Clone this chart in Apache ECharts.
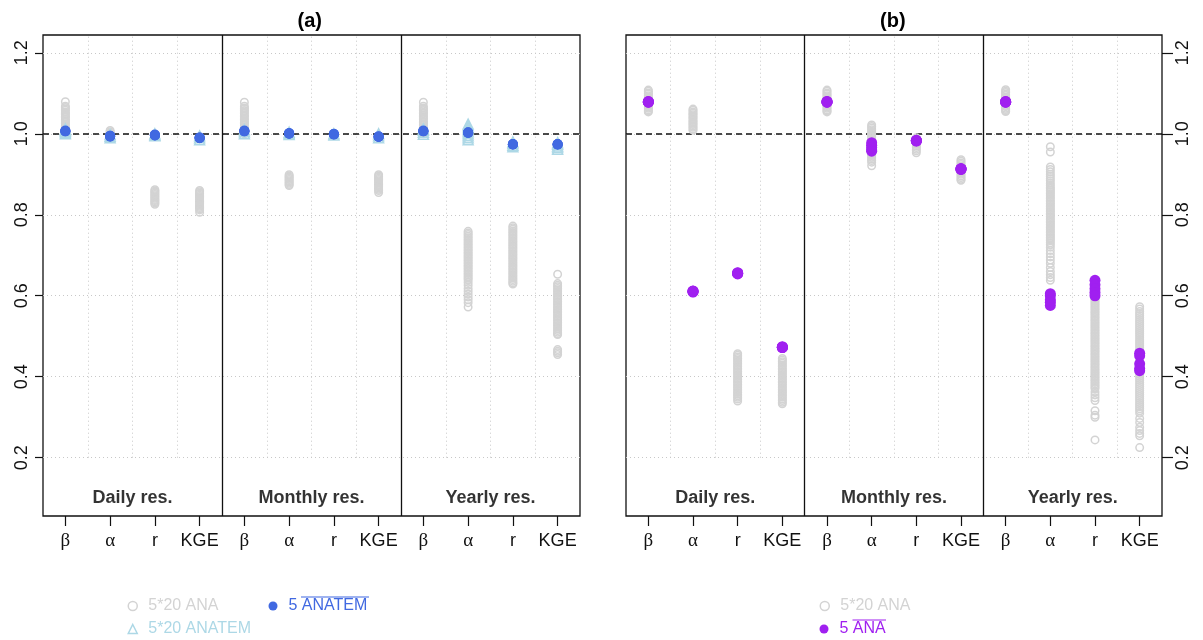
<!DOCTYPE html>
<html><head><meta charset="utf-8">
<script src="https://cdn.jsdelivr.net/npm/echarts@6/dist/echarts.min.js"></script>
<style>html,body{margin:0;padding:0;background:#fff}#c{width:1203px;height:640px}</style>
</head><body><div id="c"></div>
<script>
// ---------- labels ----------
const metrics = ['β', 'α', 'r', 'KGE'];
const resolutions = ['Daily res.', 'Monthly res.', 'Yearly res.'];
const panelTitles = ['(a)', '(b)'];
const yTicks = [0.2, 0.4, 0.6, 0.8, 1.0, 1.2];
const yMin = 0.056, yMax = 1.244;

// ---------- panel (a): 5*20 ANA (grey open circles), per metric [β, α, r, KGE] ----------
const anaA_daily = [
  [1.079,1.068,1.065,1.061,1.058,1.054,1.05,1.047,1.043,1.04,1.036,1.032,1.029,1.025,1.021,1.018,1.014,1.011,1.007,1.004,1.001],
  [1.008,1.005,1.002,0.999,0.996,0.993],
  [0.862,0.859,0.856,0.853,0.85,0.847,0.844,0.841,0.838,0.835,0.832,0.829,0.826],
  [0.86,0.857,0.854,0.851,0.848,0.845,0.842,0.839,0.836,0.833,0.83,0.827,0.824,0.821,0.818,0.815,0.812,0.806]
];
const anaA_monthly = [
  [1.078,1.068,1.064,1.061,1.057,1.054,1.05,1.046,1.043,1.039,1.035,1.032,1.028,1.025,1.021,1.017,1.014,1.01,1.007,1.003,1.0],
  [0.899,0.896,0.893,0.89,0.887,0.884,0.881,0.878,0.875,0.872],
  [1.0,0.998,0.996],
  [0.899,0.896,0.893,0.89,0.887,0.884,0.881,0.878,0.875,0.872,0.869,0.866,0.863,0.86,0.855]
];
const anaA_yearly = [
  [1.078,1.068,1.064,1.06,1.057,1.053,1.05,1.046,1.042,1.039,1.035,1.031,1.028,1.024,1.021,1.017,1.013,1.01,1.006,1.003,1.0],
  [0.759,0.755,0.751,0.747,0.743,0.739,0.735,0.731,0.727,0.723,0.719,0.715,0.711,0.707,0.703,0.699,0.695,0.691,0.687,0.683,0.679,0.675,0.671,0.667,0.663,0.659,0.655,0.651,0.647,0.643,0.639,0.633,0.626,0.618,0.611,0.604,0.597,0.59,0.583,0.572],
  [0.772,0.768,0.764,0.76,0.756,0.752,0.748,0.744,0.74,0.736,0.732,0.728,0.724,0.72,0.716,0.712,0.708,0.704,0.7,0.696,0.692,0.688,0.684,0.68,0.676,0.672,0.668,0.664,0.66,0.656,0.652,0.648,0.644,0.64,0.636,0.632,0.629],
  [0.653,0.63,0.626,0.622,0.618,0.614,0.61,0.606,0.602,0.598,0.594,0.59,0.586,0.582,0.578,0.574,0.57,0.566,0.562,0.558,0.554,0.55,0.546,0.542,0.538,0.534,0.53,0.526,0.522,0.518,0.514,0.51,0.506,0.504,0.467,0.463,0.459,0.455]
];
// panel (a): 5*20 ANATEM (light-blue open triangles)
const anatemA_daily   = [[1.0,1.003,1.006,1.009,1.012],[0.99,0.994,0.998],[0.995,0.997,1.0],[0.985,0.99,0.995]];
const anatemA_monthly = [[1.0,1.005,1.01],[0.998,1.001,1.004],[0.997,1.0],[0.99,0.995,1.0]];
const anatemA_yearly  = [[0.999,1.004,1.009,1.012],[0.985,0.99,0.995,1.0,1.005,1.01,1.015,1.02,1.024],[0.968,0.972,0.976,0.98],[0.962,0.966,0.97,0.974,0.978]];
// panel (a): 5 mean ANATEM (blue dots)
const meanA_daily   = [[1.007,1.006,1.008,1.007,1.006],[0.994,0.995,0.993,0.994,0.995],[0.997,0.996,0.998,0.997,0.996],[0.99,0.989,0.991,0.99,0.99]];
const meanA_monthly = [[1.007,1.006,1.008,1.007,1.006],[1.001,1.0,1.002,1.001,1.0],[0.999,0.998,1.0,0.999,0.999],[0.993,0.992,0.994,0.993,0.993]];
const meanA_yearly  = [[1.007,1.006,1.008,1.007,1.006],[1.003,1.002,1.004,1.003,1.002],[0.974,0.973,0.975,0.974,0.974],[0.974,0.973,0.975,0.974,0.974]];

// ---------- panel (b): 5*20 ANA (grey open circles) ----------
const anaB_daily = [
  [1.108,1.105,1.101,1.098,1.094,1.091,1.087,1.084,1.08,1.077,1.073,1.07,1.066,1.063,1.059,1.056,1.054],
  [1.061,1.058,1.054,1.051,1.047,1.044,1.04,1.037,1.033,1.03,1.026,1.023,1.019,1.016,1.012,1.009],
  [0.457,0.453,0.449,0.445,0.441,0.437,0.433,0.429,0.425,0.421,0.417,0.413,0.409,0.405,0.401,0.397,0.393,0.389,0.385,0.381,0.377,0.373,0.369,0.365,0.361,0.357,0.353,0.349,0.345,0.34],
  [0.445,0.441,0.437,0.433,0.429,0.425,0.421,0.417,0.413,0.409,0.405,0.401,0.397,0.393,0.389,0.385,0.381,0.377,0.373,0.369,0.365,0.361,0.357,0.353,0.349,0.345,0.341,0.337,0.333]
];
const anaB_monthly = [
  [1.108,1.105,1.101,1.098,1.094,1.091,1.087,1.084,1.08,1.077,1.073,1.07,1.066,1.063,1.059,1.056,1.054],
  [1.022,1.018,1.014,1.01,1.006,1.002,0.998,0.994,0.99,0.986,0.982,0.978,0.974,0.97,0.966,0.962,0.958,0.954,0.95,0.946,0.942,0.938,0.934,0.93,0.921],
  [0.99,0.986,0.982,0.978,0.974,0.97,0.966,0.962,0.958,0.953],
  [0.936,0.932,0.928,0.924,0.92,0.916,0.912,0.908,0.904,0.9,0.896,0.892,0.888,0.885]
];
const anaB_yearly = [
  [1.109,1.105,1.102,1.098,1.095,1.091,1.088,1.084,1.081,1.077,1.074,1.07,1.067,1.063,1.06,1.057,1.055],
  [0.968,0.955,0.918,0.912,0.906,0.9,0.895,0.889,0.884,0.878,0.873,0.868,0.864,0.86,0.856,0.852,0.848,0.844,0.84,0.836,0.832,0.828,0.824,0.82,0.816,0.812,0.808,0.804,0.8,0.796,0.792,0.788,0.784,0.78,0.776,0.772,0.768,0.764,0.76,0.756,0.752,0.748,0.744,0.74,0.736,0.731,0.726,0.72,0.712,0.704,0.696,0.688,0.68,0.67,0.66,0.652,0.645,0.638],
  [0.632,0.627,0.622,0.617,0.612,0.607,0.602,0.598,0.594,0.59,0.586,0.582,0.578,0.574,0.57,0.566,0.562,0.558,0.554,0.55,0.546,0.542,0.538,0.534,0.53,0.526,0.522,0.518,0.514,0.51,0.506,0.502,0.498,0.494,0.49,0.486,0.482,0.478,0.474,0.47,0.466,0.462,0.458,0.454,0.45,0.446,0.442,0.438,0.434,0.43,0.426,0.422,0.418,0.414,0.41,0.406,0.402,0.398,0.394,0.39,0.386,0.382,0.378,0.374,0.37,0.362,0.355,0.348,0.341,0.316,0.305,0.3,0.244],
  [0.573,0.567,0.561,0.556,0.551,0.546,0.541,0.536,0.531,0.526,0.521,0.516,0.511,0.506,0.501,0.496,0.491,0.486,0.481,0.476,0.471,0.466,0.461,0.456,0.451,0.446,0.441,0.436,0.431,0.426,0.421,0.416,0.411,0.406,0.401,0.396,0.391,0.386,0.381,0.376,0.371,0.366,0.361,0.356,0.351,0.346,0.341,0.336,0.331,0.326,0.321,0.316,0.31,0.297,0.287,0.275,0.267,0.26,0.254,0.225]
];
// panel (b): 5 mean ANA (purple dots)
const meanB_daily   = [[1.078,1.079,1.08,1.079,1.078],[0.611,0.61,0.612,0.609,0.611],[0.655,0.656,0.654,0.657,0.655],[0.472,0.473,0.474,0.472,0.473]];
const meanB_monthly = [[1.078,1.079,1.08,1.079,1.078],[0.978,0.972,0.966,0.96,0.957],[0.983,0.982,0.984,0.983,0.983],[0.913,0.912,0.914,0.913,0.913]];
const meanB_yearly  = [[1.078,1.079,1.08,1.079,1.078],[0.605,0.6,0.59,0.584,0.576],[0.638,0.627,0.617,0.608,0.6],[0.458,0.452,0.432,0.42,0.415]];

// ---------- colours ----------
const cGrey = '#d3d3d3', cLightBlue = '#add8e6', cBlue = '#4169e1', cPurple = '#a020f0';

// ---------- helpers ----------
const nM = metrics.length, nR = resolutions.length, nCat = nM * nR;
const categories = [];
resolutions.forEach(() => metrics.forEach(m => categories.push(m)));
function toPoints(groups) {
  const pts = [];
  groups.forEach((grp, r) => grp.forEach((vals, m) => vals.forEach(v => pts.push([r * nM + m, v]))));
  return pts;
}
function structuralLines() {
  const d = [];
  const dotted = { color: '#c8c8c8', width: 1, type: [1, 3], opacity: 1 };
  yTicks.forEach(t => d.push({ coords: [[0, t], [nCat, t]], lineStyle: dotted }));
  for (let k = 1; k < nCat; k++) {
    if (k % nM === 0) d.push({ coords: [[k, yMin], [k, yMax]], lineStyle: { color: '#111', width: 1.3, type: 'solid', opacity: 1 } });
    else d.push({ coords: [[k, 0.2], [k, yMax]], lineStyle: dotted });
  }
  d.push({ coords: [[0, 1.0], [nCat, 1.0]], lineStyle: { color: '#111', width: 1.5, type: [6, 4], opacity: 1 } });
  return d;
}
const ringStyle = c => ({ color: 'rgba(0,0,0,0)', borderColor: c, borderWidth: 1.5, opacity: 1 });

const grids = [
  { left: 43, top: 35, width: 537, height: 481 },
  { left: 626, top: 35, width: 536, height: 481 }
];

const xAxes = [], yAxes = [], series = [];
grids.forEach((g, p) => {
  xAxes.push({
    type: 'category', gridIndex: p, data: categories, boundaryGap: true,
    axisLine: { show: false, onZero: false },
    axisTick: { show: true, alignWithLabel: true, interval: 0, length: 10, lineStyle: { color: '#111', width: 1.2 } },
    axisLabel: {
      interval: 0, margin: 16, fontSize: 18, color: '#111', fontFamily: 'Liberation Sans',
      formatter: v => (v === 'β' || v === 'α') ? '{g|' + v + '}' : v,
      rich: { g: { fontFamily: 'Liberation Serif', fontSize: 19, color: '#111' } }
    },
    splitLine: { show: false }
  });
  xAxes.push({ type: 'value', gridIndex: p, min: 0, max: nCat, show: false, axisLine: { onZero: false } });
  yAxes.push({
    type: 'value', gridIndex: p, min: yMin, max: yMax, position: p === 0 ? 'left' : 'right',
    axisLine: { show: false, onZero: false },
    axisTick: { show: true, inside: false, customValues: yTicks, length: p === 0 ? 8 : 11, lineStyle: { color: '#111', width: 1.2 } },
    axisLabel: { customValues: yTicks, rotate: 90, fontSize: 18, color: '#111', margin: 12, fontFamily: 'Liberation Sans', formatter: v => v.toFixed(1) },
    splitLine: { show: false }
  });
  series.push({
    type: 'lines', coordinateSystem: 'cartesian2d', xAxisIndex: p * 2 + 1, yAxisIndex: p,
    silent: true, z: 1, lineStyle: { opacity: 1 }, data: structuralLines()
  });
  series.push({
    type: 'scatter', xAxisIndex: p * 2 + 1, yAxisIndex: p, symbolSize: 0, silent: true,
    data: resolutions.map((name, r) => ({ name, value: [r * nM + nM / 2, 0.1] })),
    label: { show: true, position: 'inside', formatter: '{b}', fontSize: 18, fontWeight: 'bold', color: '#000', fontFamily: 'Liberation Sans' }
  });
});

series.push({ name: '5*20 ANA', type: 'scatter', xAxisIndex: 0, yAxisIndex: 0, symbol: 'circle', symbolSize: 7.5, itemStyle: ringStyle(cGrey), data: toPoints([anaA_daily, anaA_monthly, anaA_yearly]) });
series.push({ name: '5*20 ANATEM', type: 'scatter', xAxisIndex: 0, yAxisIndex: 0, symbol: 'triangle', symbolSize: 10, itemStyle: ringStyle(cLightBlue), data: toPoints([anatemA_daily, anatemA_monthly, anatemA_yearly]) });
series.push({ name: '5 ANATEM', type: 'scatter', xAxisIndex: 0, yAxisIndex: 0, symbol: 'circle', symbolSize: 10, itemStyle: { color: cBlue, opacity: 1 }, data: toPoints([meanA_daily, meanA_monthly, meanA_yearly]) });
series.push({ name: '5*20 ANA', type: 'scatter', xAxisIndex: 2, yAxisIndex: 1, symbol: 'circle', symbolSize: 7.5, itemStyle: ringStyle(cGrey), data: toPoints([anaB_daily, anaB_monthly, anaB_yearly]) });
series.push({ name: '5 ANA', type: 'scatter', xAxisIndex: 2, yAxisIndex: 1, symbol: 'circle', symbolSize: 11, itemStyle: { color: cPurple, opacity: 1 }, data: toPoints([meanB_daily, meanB_monthly, meanB_yearly]) });

function legendAt(left, top, name, icon, itemStyle, color) {
  return {
    left, top, orient: 'horizontal', itemWidth: 9, itemHeight: 9, selectedMode: false, padding: 0,
    data: [{ name, icon, itemStyle, textStyle: { color } }],
    textStyle: { fontSize: 16, fontFamily: 'Liberation Sans', lineHeight: 18, padding: [0, 0, 0, 6] }
  };
}
const legends = [
  legendAt(127.5, 597, '5*20 ANA', 'circle', ringStyle(cGrey), cGrey),
  legendAt(127.5, 620, '5*20 ANATEM', 'triangle', ringStyle(cLightBlue), cLightBlue),
  legendAt(268.5, 597, '5 ANATEM', 'circle', { color: cBlue, opacity: 1 }, cBlue),
  legendAt(819.5, 597, '5*20 ANA', 'circle', ringStyle(cGrey), cGrey),
  legendAt(819.5, 620, '5 ANA', 'circle', { color: cPurple, opacity: 1 }, cPurple)
];

const chart = echarts.init(document.getElementById('c'), null, { renderer: 'canvas' });
chart.setOption({
  animation: false,
  backgroundColor: '#fff',
  textStyle: { fontFamily: 'Liberation Sans' },
  grid: grids.map(g => Object.assign({ show: true, borderColor: '#111', borderWidth: 1.3, backgroundColor: 'transparent' }, g)),
  xAxis: xAxes, yAxis: yAxes, series, legend: legends,
  graphic: [
    { type: 'text', left: 43 + 537 / 2 - 14, top: 11, style: { text: panelTitles[0], font: 'bold 20px "Liberation Sans"', fill: '#000' } },
    { type: 'text', left: 626 + 536 / 2 - 14, top: 11, style: { text: panelTitles[1], font: 'bold 20px "Liberation Sans"', fill: '#000' } },
    { type: 'line', shape: { x1: 301, y1: 597, x2: 369, y2: 597 }, style: { stroke: cBlue, lineWidth: 1.2 } },
    { type: 'line', shape: { x1: 852.5, y1: 620, x2: 886, y2: 620 }, style: { stroke: cPurple, lineWidth: 1.2 } }
  ]
});
</script></body></html>
